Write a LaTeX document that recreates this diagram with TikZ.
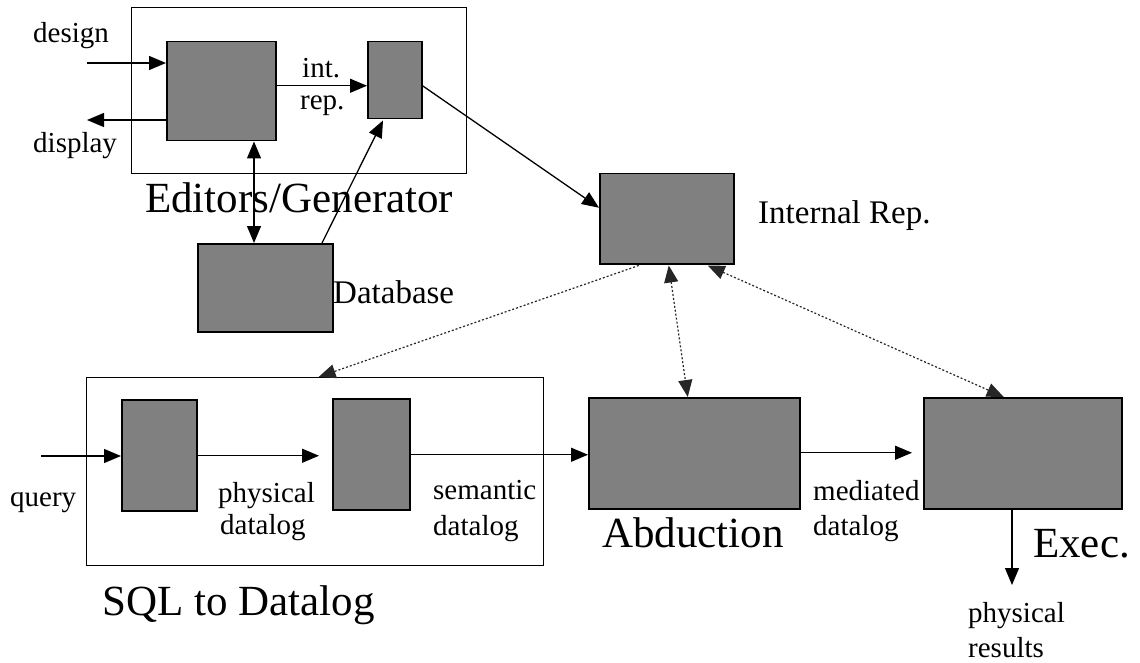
\documentclass[tikz,border=0pt]{standalone}
\usepackage{fontspec}
\setmainfont{Liberation Serif}
\usetikzlibrary{arrows.meta}
\begin{document}
\begin{tikzpicture}[x=1pt,y=-1pt,
  blk/.style={draw=black,line width=1.5pt,fill=black!50,inner sep=0pt,anchor=north west},
  frm/.style={draw=black,line width=1.2pt,inner sep=0pt,anchor=north west},
  lbl/.style={inner sep=0pt,anchor=base west,font=\fontsize{29}{33}\selectfont},
  mlbl/.style={inner sep=0pt,anchor=base west,font=\fontsize{33}{37}\selectfont},
  big/.style={inner sep=0pt,anchor=base west,font=\fontsize{43}{48}\selectfont},
  arr/.style={line width=1.3pt,-{Triangle[length=17pt,width=14pt]}},
  dbl/.style={line width=1.3pt,{Triangle[length=17pt,width=14pt]}-{Triangle[length=17pt,width=14pt]}},
  dotarr/.style={line width=1.2pt,black!85,dash pattern=on 2pt off 2pt,
     {Triangle[length=17pt,width=14pt]}-{Triangle[length=17pt,width=14pt]}},
  dotone/.style={line width=1.2pt,black!85,dash pattern=on 2pt off 2pt,
     -{Triangle[length=17pt,width=14pt]}}]
\useasboundingbox (0,0) rectangle (1140,663);

% frames
\node[frm,minimum width=335pt,minimum height=166pt] (EG) at (131,7) {};
\node[frm,minimum width=457pt,minimum height=188pt] (SQL) at (86,377) {};

% boxes
\node[blk,minimum width=109pt,minimum height=99pt] (A) at (166,41) {};
\node[blk,minimum width=54pt,minimum height=77pt] (B) at (367,41) {};
\node[blk,minimum width=135pt,minimum height=88pt] (DB) at (197,243) {};
\node[blk,minimum width=134pt,minimum height=90pt] (IR) at (599,173) {};
\node[blk,minimum width=75pt,minimum height=111pt] (C) at (121,399) {};
\node[blk,minimum width=77pt,minimum height=111pt] (D) at (332,398) {};
\node[blk,minimum width=211pt,minimum height=111pt] (AB) at (588,397) {};
\node[blk,minimum width=198pt,minimum height=111pt] (EX) at (923,397) {};

% labels
\node[lbl] (tdesign) at (33,43) {design};
\node[lbl] (tdisplay) at (33,153) {display};
\node[lbl] (tint) at (302,78) {int.};
\node[lbl] (trep) at (300,110) {rep.};
\node[big] (tEG) at (145,213) {Editors/Generator};
\node[mlbl] (tDB) at (333,303) {Database};
\node[mlbl] (tIR) at (758,223) {Internal Rep.};
\node[lbl] (tquery) at (10,506) {query};
\node[lbl] (tphys) at (218,502) {physical};
\node[lbl] (tdl1) at (220,534) {datalog};
\node[lbl] (tsem) at (433,499) {semantic};
\node[lbl] (tdl2) at (433,535) {datalog};
\node[big] (tSQL) at (102,615) {SQL to Datalog};
\node[big] (tAB) at (602,547) {Abduction};
\node[lbl] (tmed) at (813,500) {mediated};
\node[lbl] (tdl3) at (813,535) {datalog};
\node[big] (tEX) at (1033,557) {Exec.};
\node[lbl] (tpr) at (968,622) {physical};
\node[lbl] (tres) at (968,657) {results};

% helper coordinates
\coordinate (din) at (87,63);
\coordinate (dout) at (87,120);
\coordinate (vx) at (254,0);
\coordinate (p) at (322,0);
\coordinate (q) at (383,0);
\coordinate (qin) at (41,456);
\coordinate (res) at (1012,585);

% solid connectors
\draw[arr] (din) -- (din -| A.west);
\draw[arr] (dout -| A.west) -- (dout);
\draw[arr] ([yshift=5.5pt]A.east) -- ([yshift=5.5pt]A.east -| B.west);
\draw[dbl] (vx |- A.south) -- (vx |- DB.north);
\draw[arr] (p |- DB.north) -- ([yshift=-1pt]q |- B.south);
\draw[arr] ([yshift=-5.5pt]B.east) -- ([yshift=11pt]IR.west);
\draw[arr] (qin) -- (qin -| C.west);
\draw[arr,shorten >=13pt] ([yshift=-0.5pt]C.east) -- ([yshift=-0.5pt]C.east -| D.west);
\draw[arr] ([yshift=-0.5pt]D.east) -- ([yshift=-0.5pt]D.east -| AB.west);
\draw[arr,shorten >=11pt] ([yshift=0.5pt]AB.east) -- ([yshift=0.5pt]AB.east -| EX.west);
\draw[arr] (res |- EX.south) -- (res);

% dotted connectors
\draw[dotone] ([xshift=-28pt,yshift=-1pt]IR.south) -- ([xshift=3.5pt]SQL.north);
\draw[dotarr] ([xshift=2pt,yshift=-1pt]IR.south) -- ([xshift=-6.5pt]AB.north);
\draw[dotarr] ([xshift=41pt,yshift=-1pt]IR.south) -- ([xshift=-19pt]EX.north);
\end{tikzpicture}
\end{document}
